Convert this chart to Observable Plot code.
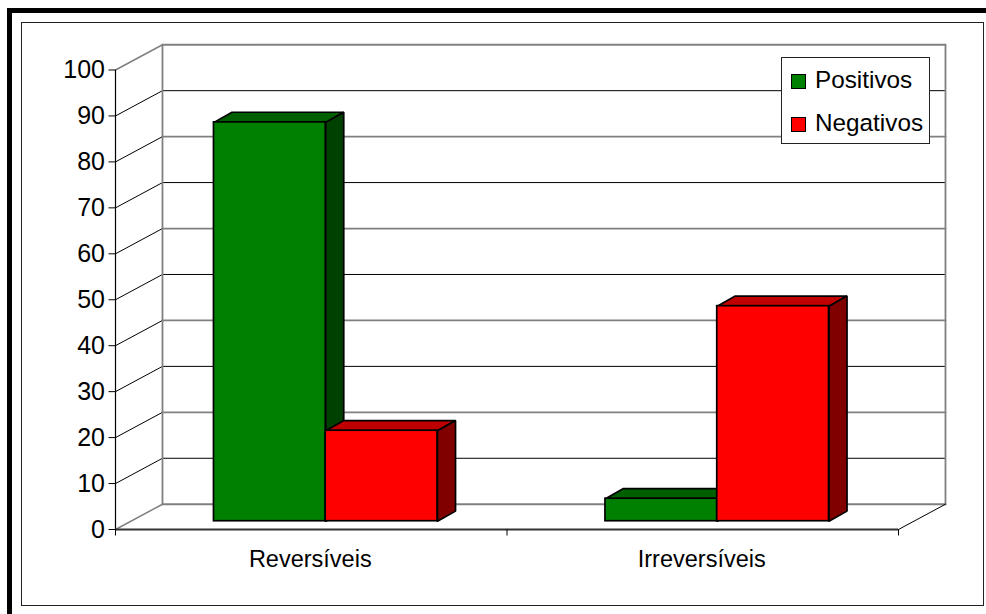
<!DOCTYPE html>
<html>
<head>
<meta charset="utf-8">
<script src="https://cdn.jsdelivr.net/npm/d3@7"></script>
<script src="https://cdn.jsdelivr.net/npm/@observablehq/plot@0.6"></script>
<style>
  html, body { margin: 0; padding: 0; background: #fff; }
  #page { position: relative; width: 986px; height: 614px; overflow: hidden; font-family: "Liberation Sans", Arial, sans-serif; }
  #page svg { position: absolute; left: 0; top: 0; }
  .bar-l { position: absolute; left: 7px; top: 8px; width: 5px; height: 606px; background: #000; }
  .bar-t { position: absolute; left: 7px; top: 8px; width: 979px; height: 5px; background: #000; }
  .inner { position: absolute; left: 21px; top: 22px; width: 961px; height: 582px; border: 1px solid #222; box-sizing: content-box; }
  .legend { position: absolute; left: 781px; top: 57px; width: 149px; height: 87px; border: 1px solid #222; background: #fff; box-sizing: border-box; font-size: 24.3px; color: #000; }
  .legend div { position: absolute; left: 33px; line-height: 28px; white-space: nowrap; }
  .legend i { position: absolute; left: -24px; top: 8px; width: 13px; height: 13px; border: 1px solid #000; }
</style>
</head>
<body>
<div id="page">
  <div class="bar-l"></div><div class="bar-t"></div><div class="inner"></div>
</div>
<script>
const categories = ["Reversíveis", "Irreversíveis"];
const seriesNames = ["Positivos", "Negativos"];
const positivos = [86.8, 4.9];
const negativos = [19.7, 46.8];
const yTicks = [0, 10, 20, 30, 40, 50, 60, 70, 80, 90, 100];
const faceFront = ["#008000", "#ff0000"];
const faceTop = ["#006000", "#c00000"];
const faceSide = ["#004000", "#800000"];
const gridGrey = [0, 20, 40, 60, 80, 100];

// Oblique projection, in scale units
const wallDx = 0.12, wallDy = 5.5;
const frontDy = 1.8;
const depthDx = 0.046, depthDy = 2.2;
const barStart = 0.2515, barWidth = 0.2855;

const bars = [];
categories.forEach((c, i) => {
  [positivos, negativos].forEach((s, j) => {
    bars.push({
      x1: i + barStart + j * barWidth,
      x2: i + barStart + (j + 1) * barWidth,
      y1: frontDy,
      y2: frontDy + s[i],
      s: j
    });
  });
});

const face = (pts, fill) => Plot.line([...pts, pts[0]], {
  x: d => d[0], y: d => d[1], fill, stroke: "#000", strokeWidth: 1.7, strokeLinejoin: "miter", curve: "linear"
});

const barMarks = bars.flatMap(b => [
  face([[b.x1, b.y2], [b.x2, b.y2], [b.x2 + depthDx, b.y2 + depthDy], [b.x1 + depthDx, b.y2 + depthDy]], faceTop[b.s]),
  face([[b.x2, b.y1], [b.x2, b.y2], [b.x2 + depthDx, b.y2 + depthDy], [b.x2 + depthDx, b.y1 + depthDy]], faceSide[b.s]),
  Plot.rect([b], { x1: "x1", x2: "x2", y1: "y1", y2: "y2", fill: faceFront[b.s], stroke: "#000", strokeWidth: 1.7 })
]);

const gridStyle = v => gridGrey.includes(v) ? "#808080" : "#000";
const gridWidth = v => gridGrey.includes(v) ? 1.8 : 1;

const chart = Plot.plot({
  width: 986,
  height: 614,
  margin: 0,
  style: { background: "transparent", fontFamily: "'Liberation Sans', Arial, sans-serif" },
  x: { domain: [0, 2], range: [115, 898], axis: null },
  y: { domain: [0, 100], range: [529, 69.5], axis: null },
  marks: [
    // back wall grid
    ...yTicks.map(v => Plot.line([[wallDx, v + wallDy], [2 + wallDx, v + wallDy]], {
      x: d => d[0], y: d => d[1], stroke: gridStyle(v), strokeWidth: gridWidth(v)
    })),
    // left wall grid
    ...yTicks.map(v => Plot.line([[0, v], [wallDx, v + wallDy]], {
      x: d => d[0], y: d => d[1], stroke: (v === 0 || v === 100) ? "#808080" : "#000", strokeWidth: (v === 0 || v === 100) ? 1.5 : 1
    })),
    // wall verticals
    Plot.line([[wallDx, wallDy], [wallDx, 100 + wallDy]], { x: d => d[0], y: d => d[1], stroke: "#808080", strokeWidth: 1.8 }),
    Plot.line([[2 + wallDx, wallDy], [2 + wallDx, 100 + wallDy]], { x: d => d[0], y: d => d[1], stroke: "#808080", strokeWidth: 1.8 }),
    // floor right edge
    Plot.line([[2, 0], [2 + wallDx, wallDy]], { x: d => d[0], y: d => d[1], stroke: "#000", strokeWidth: 1 }),
    ...barMarks,
    // axes
    Plot.ruleX([0], { y1: 0, y2: 100, stroke: "#000", strokeWidth: 1.2 }),
    Plot.ruleY([0], { x1: 0, x2: 2, stroke: "#333", strokeWidth: 2 }),
    Plot.axisY({ ticks: yTicks, tickSize: 6.5, tickPadding: 4, fontSize: 25, stroke: "#000", color: "#000", label: null, anchor: "left", x: 0 }),
    Plot.axisX({ ticks: [0, 1, 2], tickSize: 6.5, tickFormat: () => "", label: null, anchor: "bottom", y: 0 }),
    Plot.text(categories, { x: (d, i) => i + 0.5, y: 0, dy: 30, dx: -1, text: d => d, fontSize: 23.5, fill: "#000", textAnchor: "middle" })
  ]
});
const page = document.getElementById("page");
page.appendChild(chart);

const legend = document.createElement("div");
legend.className = "legend";
seriesNames.forEach((name, i) => {
  const row = document.createElement("div");
  row.style.top = (i === 0 ? 8 : 51) + "px";
  const sw = document.createElement("i");
  sw.style.background = faceFront[i];
  row.appendChild(sw);
  row.appendChild(document.createTextNode(name));
  legend.appendChild(row);
});
page.appendChild(legend);
</script>
</body>
</html>
